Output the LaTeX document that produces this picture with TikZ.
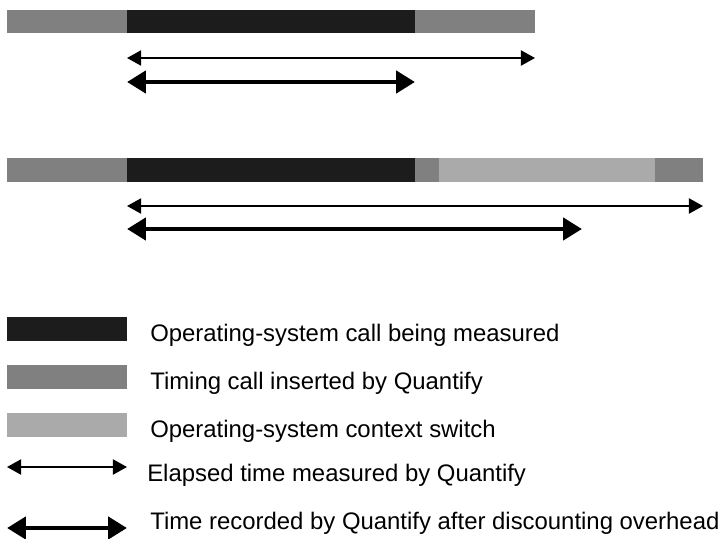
\documentclass[tikz,border=0pt]{standalone}
\usepackage{fontspec}
\setmainfont{Liberation Sans}
\usepackage{tikz}
\usetikzlibrary{arrows.meta}
\definecolor{OsCall}{HTML}{1C1C1C}
\definecolor{TimingCall}{HTML}{808080}
\definecolor{CtxSwitch}{HTML}{AAAAAA}
\tikzset{
  oscall/.style={fill=OsCall},
  timing/.style={fill=TimingCall},
  ctxsw/.style={fill=CtxSwitch},
  elapsed/.style={line width=1.4pt,
    {Triangle[length=10pt,width=10.7pt]}-{Triangle[length=10pt,width=10.7pt]}},
  recorded/.style={line width=3.4pt,
    {Triangle[length=13.5pt,width=15.6pt]}-{Triangle[length=13.5pt,width=15.6pt]}},
  legtext/.style={anchor=base west,inner sep=0pt,
    font=\fontsize{17}{20}\selectfont},
}

\begin{document}
\begin{tikzpicture}[x=0.025cm,y=-0.025cm]
  \useasboundingbox (0,0) rectangle (720,538);
  % first run: no context switch
  \fill[timing] (7,10) rectangle (127,33);
  \fill[oscall] (127,10) rectangle (415,33);
  \fill[timing] (415,10) rectangle (535,33);
  \coordinate (el1a) at (127,58);
  \coordinate (el1b) at (535,58);
  \coordinate (rc1a) at (127,82);
  \coordinate (rc1b) at (415,82);
  \draw[elapsed] (el1a) -- (el1b);
  \draw[recorded] (rc1a) -- (rc1b);
  % second run: context switch inside the timing call
  \fill[timing] (7,158) rectangle (127,182);
  \fill[oscall] (127,158) rectangle (415,182);
  \fill[timing] (415,158) rectangle (439,182);
  \fill[ctxsw] (439,158) rectangle (655,182);
  \fill[timing] (655,158) rectangle (703,182);
  \coordinate (el2a) at (127,206);
  \coordinate (el2b) at (703,206);
  \coordinate (rc2a) at (127,229);
  \coordinate (rc2b) at (582,229);
  \draw[elapsed] (el2a) -- (el2b);
  \draw[recorded] (rc2a) -- (rc2b);
  % legend
  \fill[oscall] (7,317) rectangle (127,341);
  \fill[timing] (7,365) rectangle (127,389);
  \fill[ctxsw] (7,413) rectangle (127,437);
  \coordinate (lgela) at (7,467);
  \coordinate (lgelb) at (127,467);
  \coordinate (lgrca) at (7,528);
  \coordinate (lgrcb) at (127,528);
  \draw[elapsed] (lgela) -- (lgelb);
  \draw[recorded] (lgrca) -- (lgrcb);
  \node[legtext] (lgos) at (150,341) {Operating-system call being measured};
  \node[legtext] (lgtc) at (150,389) {Timing call inserted by Quantify};
  \node[legtext] (lgcs) at (150,437) {Operating-system context switch};
  \node[legtext] (lgel) at (147,481) {Elapsed time measured by Quantify};
  \node[legtext] (lgrc) at (150,529) {Time recorded by Quantify after discounting overhead};
\end{tikzpicture}
\end{document}
